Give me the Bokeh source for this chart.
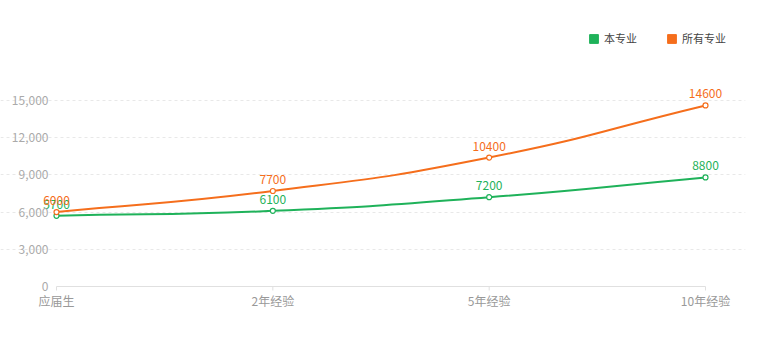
from bokeh.plotting import figure
from bokeh.models import Range1d, FixedTicker, Legend, LegendItem, ColumnDataSource
from bokeh.embed import file_html
from bokeh.resources import INLINE

categories = ["应届生", "2年经验", "5年经验", "10年经验"]
series_names = ["本专业", "所有专业"]
major_values = [5700, 6100, 7200, 8800]
all_values = [6000, 7700, 10400, 14600]
y_ticks = [0, 3000, 6000, 9000, 12000, 15000]
colors = ["#1fb25a", "#f56e1c"]

W, H = 767, 354
# data area (pixels) of the reference
X0, X1, Y0, Y1 = 56, 705, 100, 286
# frame (made larger so that no text is clipped)
FL, FR, FT, FB = 0, 745, 0, 291
FONT = "Noto Sans CJK SC"

n = len(categories)
sx = (X1 - X0) / (n - 1)
sy = (Y1 - Y0) / 15000.0

x_start = -(X0 - FL) / sx
x_end = (n - 1) + (FR - X1) / sx
y_start = -(FB - Y1) / sy
y_end = 15000 + (Y0 - FT) / sy

p = figure(width=W, height=H, output_backend="svg", toolbar_location=None,
           x_range=Range1d(x_start, x_end), y_range=Range1d(y_start, y_end),
           min_border_left=FL, min_border_right=W - FR, min_border_top=FT, min_border_bottom=H - FB)
p.outline_line_color = None
p.background_fill_color = "white"
p.border_fill_color = "white"


def smooth_segments(xs, ys, smooth=0.5):
    px = [x * sx for x in xs]
    py = [y * sy for y in ys]
    m = len(px)
    cp_out, cp_in = [], []
    for i in range(m):
        prev = max(i - 1, 0)
        nxt = min(i + 1, m - 1)
        vx = px[nxt] - px[prev]
        vy = py[nxt] - py[prev]
        lp = ((px[i] - px[prev]) ** 2 + (py[i] - py[prev]) ** 2) ** 0.5
        ln = ((px[nxt] - px[i]) ** 2 + (py[nxt] - py[i]) ** 2) ** 0.5
        r = ln / (ln + lp) if (ln + lp) > 0 else 0.5
        cp_out.append((px[i] + vx * smooth * r, py[i] + vy * smooth * r))
        cp_in.append((px[i] - vx * smooth * (1 - r), py[i] - vy * smooth * (1 - r)))
    d = dict(x0=[], y0=[], x1=[], y1=[], cx0=[], cy0=[], cx1=[], cy1=[])
    for i in range(m - 1):
        d["x0"].append(xs[i]); d["y0"].append(ys[i])
        d["x1"].append(xs[i + 1]); d["y1"].append(ys[i + 1])
        d["cx0"].append(cp_out[i][0] / sx); d["cy0"].append(cp_out[i][1] / sy)
        d["cx1"].append(cp_in[i + 1][0] / sx); d["cy1"].append(cp_in[i + 1][1] / sy)
    return d


nan = float("nan")
xs = list(range(n))

# y grid
p.xgrid.grid_line_color = None
p.ygrid.ticker = FixedTicker(ticks=y_ticks[1:])
p.ygrid.grid_line_color = "#e8e8e8"
p.ygrid.grid_line_dash = "3 3"
p.ygrid.bounds = (0, n - 1)

# x axis line and ticks at value 0
p.segment(x0=[xs[0]], y0=[y_ticks[0]], x1=[xs[-1]], y1=[y_ticks[0]], line_color="#e0e0e0", line_width=1)
p.segment(x0=xs, y0=[y_ticks[0]] * n, x1=xs, y1=[y_ticks[0] - 4 / sy] * n, line_color="#e0e0e0", line_width=1)

legend_items = []
for name, vals, col in zip(series_names, [major_values, all_values], colors):
    seg = ColumnDataSource(smooth_segments(xs, vals))
    p.bezier(x0="x0", y0="y0", x1="x1", y1="y1", cx0="cx0", cy0="cy0", cx1="cx1", cy1="cy1",
             source=seg, line_color=col, line_width=2)
    src = ColumnDataSource(dict(x=xs, y=vals, t=[str(v) for v in vals]))
    p.scatter("x", "y", source=src, size=5, fill_color="white", line_color=col, line_width=1.2)
    p.text("x", "y", text="t", source=src, text_color=col, text_font_size="12px",
           text_align="center", text_baseline="bottom", y_offset=-7,
           text_font={"value": FONT})
    dummy = p.quad(left=[nan], right=[nan], top=[nan], bottom=[nan], fill_color=col, line_color=col)
    legend_items.append(LegendItem(label=name, renderers=[dummy]))

legend = Legend(items=legend_items, orientation="horizontal", location=(588 - FL, FB - 46),
                glyph_width=11, glyph_height=11, label_height=11, label_standoff=5,
                spacing=29, padding=0, margin=0, border_line_color=None,
                background_fill_alpha=0, label_text_font_size="11px",
                label_text_color="#444444", label_text_font=FONT)
p.add_layout(legend, "center")

# x axis (category labels only; line and ticks drawn above at value 0)
p.xaxis.ticker = FixedTicker(ticks=xs)
p.xaxis.major_label_overrides = {i: c for i, c in enumerate(categories)}
p.xaxis.axis_line_color = None
p.xaxis.major_tick_line_color = None
p.xaxis.major_tick_in = 0
p.xaxis.major_tick_out = 0
p.xaxis.minor_tick_line_color = None
p.xaxis.major_label_text_color = "#999999"
p.xaxis.major_label_text_font_size = "12px"
p.xaxis.major_label_text_font = FONT
p.xaxis.major_label_standoff = 0

# y axis: tick labels inside the enlarged frame, left of the first category
p.yaxis.visible = False
ysrc = ColumnDataSource(dict(x=[xs[0]] * len(y_ticks), y=y_ticks, t=[f"{v:,}" for v in y_ticks]))
p.text("x", "y", text="t", source=ysrc, text_color="#aaaaaa", text_font_size="12px",
       text_align="right", text_baseline="middle", x_offset=-8,
       text_font={"value": FONT})

open("out.html", "w").write(file_html(p, INLINE))
